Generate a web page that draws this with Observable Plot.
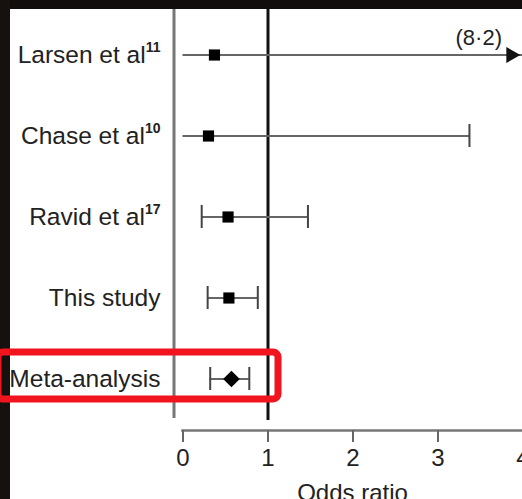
<!DOCTYPE html>
<html><head><meta charset="utf-8">
<script src="https://cdn.jsdelivr.net/npm/d3@7"></script>
<script src="https://cdn.jsdelivr.net/npm/@observablehq/plot@0.6"></script>
<style>
html,body{margin:0;padding:0;background:#140f0e;}
#chart{width:522px;height:499px;overflow:hidden;}
</style></head><body><div id="chart"></div>
<script>
const studies = ["Larsen et al", "Chase et al", "Ravid et al", "This study", "Meta-analysis"];
const refs = ["11", "10", "17", "", ""];
const oddsRatio = [0.37, 0.30, 0.53, 0.54, 0.57];
const ciLow = [0, 0, 0.22, 0.29, 0.32];
const ciHigh = [8.2, 3.37, 1.47, 0.88, 0.78];
const pooled = [false, false, false, false, true];
const xTicks = [0, 1, 2, 3, 4];
const xLabel = "Odds ratio";
const highlighted = "Meta-analysis";

const rows = studies.map((study, i) => ({study, ref: refs[i], or: oddsRatio[i], lo: ciLow[i], hi: ciHigh[i], pooled: pooled[i]}));
const xMax = xTicks[xTicks.length - 1];
const font = "'Liberation Sans', Arial, sans-serif";

const plot = Plot.plot({
  width: 522, height: 499,
  marginTop: 9, marginBottom: 69, marginLeft: 182, marginRight: 0,
  style: {background: "white", fontFamily: font, color: "#222"},
  x: {domain: [0, xMax], range: [182.5, 522.5]},
  y: {type: "band", domain: studies, range: [29, 405], paddingInner: 0.4146, paddingOuter: 0},
  marks: [
    Plot.ruleX([0], {dx: -9, insetBottom: 12, stroke: "#777", strokeWidth: 3}),
    Plot.ruleX([1], {insetBottom: 10, stroke: "#111", strokeWidth: 3}),
    Plot.frame({anchor: "bottom", stroke: "#777", strokeWidth: 2.5}),
    Plot.axisX({ticks: xTicks, tickSize: 12, tickPadding: 6, fontSize: 24, stroke: "#666", strokeWidth: 2, label: null, tickFormat: d => String(d)}),
    Plot.axisY({tickSize: 0, tickPadding: 22, fontSize: 24.5, label: null}),
    Plot.text([xLabel], {frameAnchor: "bottom", dy: 53, lineAnchor: "top", fontSize: 24, fill: "#222"}),
    Plot.ruleY(rows, {y: "study", x1: "lo", x2: "hi", stroke: "#666", strokeWidth: 2, clip: true}),
    Plot.tickX(rows.filter(d => d.lo > 0), {x: "lo", y: "study", insetTop: 12, insetBottom: 12, stroke: "#444", strokeWidth: 2}),
    Plot.tickX(rows.filter(d => d.hi <= xMax), {x: "hi", y: "study", insetTop: 12, insetBottom: 12, stroke: "#444", strokeWidth: 2}),
    Plot.dot(rows.filter(d => d.hi > xMax), {x: d => Math.min(d.hi, xMax), y: "study", symbol: "triangle", rotate: 90, r: 6, fill: "#111", stroke: null, dx: -12}),
    Plot.text(rows.filter(d => d.hi > xMax), {x: d => Math.min(d.hi, xMax), y: "study", text: d => `(${String(d.hi).replace(".", "\u00b7")})`, dx: -21, dy: -17, textAnchor: "end", fontSize: 22, fill: "#222"}),
    Plot.dot(rows.filter(d => !d.pooled), {x: "or", y: "study", symbol: "square", r: 6.3, fill: "#000", stroke: null}),
    Plot.dot(rows.filter(d => d.pooled), {x: "or", y: "study", symbol: "diamond2", r: 7.5, fill: "#000", stroke: null})
  ]
});

document.getElementById("chart").appendChild(plot);

const svg = d3.select(plot);
// reference superscripts on the study labels
svg.selectAll('g[aria-label="y-axis tick label"] text').each(function() {
  const t = d3.select(this);
  const name = t.text();
  const r = rows.find(d => d.study === name);
  if (r && r.ref) {
    t.append("tspan").attr("dy", "-11").attr("font-size", 14).attr("font-weight", "bold").text(r.ref);
  }
});

// decorations: dark photo border and red highlight box
const ys = plot.scale("y");
const xs = plot.scale("x");
svg.insert("rect", ":first-child").attr("x", 0).attr("y", 0).attr("width", 10).attr("height", 499).attr("fill", "#16110f");
svg.insert("rect", ":first-child").attr("x", 0).attr("y", 0).attr("width", 522).attr("height", 9).attr("fill", "#120d0d");
const y0 = ys.apply(highlighted);
svg.append("rect")
  .attr("x", -2).attr("y", y0 - 3)
  .attr("width", xs.apply(1) + 12.5).attr("height", ys.bandwidth)
  .attr("rx", 5).attr("fill", "none")
  .attr("stroke", "#f0141e").attr("stroke-width", 7);
</script></body></html>
